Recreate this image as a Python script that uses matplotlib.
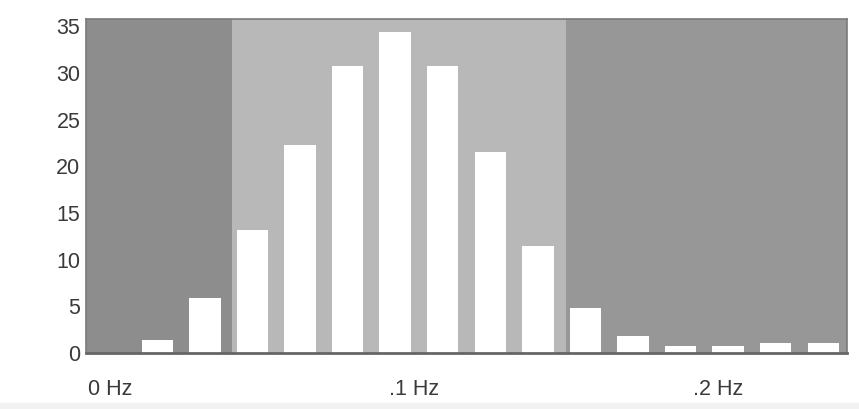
import numpy as np
import matplotlib
matplotlib.use("Agg")
import matplotlib.pyplot as plt

# spectrum bins, 1/64 Hz apart
freqs = [i / 64 for i in range(16)]
power = [0, 1.4, 5.9, 13.2, 22.3, 30.8, 34.4, 30.8, 21.5, 11.5, 4.8, 1.8, 0.8, 0.8, 1.1, 1.1]

bands = [(-0.5 / 64, 0.04), (0.04, 0.15), (0.15, 15.5 / 64)]
band_colors = ['#8d8d8d', '#b8b8b8', '#979797']

xtick_pos = [0, 0.1, 0.2]
xtick_labels = ['0 Hz', '.1 Hz', '.2 Hz']
ytick_pos = [0, 5, 10, 15, 20, 25, 30, 35]

plt.rcParams['font.family'] = ['Liberation Sans', 'DejaVu Sans']

fig = plt.figure(figsize=(8.59, 4.09), dpi=100)
ax = fig.add_axes([86 / 859, 56 / 409, 761 / 859, 334 / 409])

for (a, b), col in zip(bands, band_colors):
    ax.axvspan(a, b, color=col, lw=0, zorder=0)

ax.bar(freqs, power, width=0.66 / 64, color='white', zorder=2)

ax.set_xlim(-0.5 / 64, 15.5 / 64)
ax.set_ylim(0, 35.8)
ax.set_xticks(xtick_pos)
ax.set_xticklabels(xtick_labels)
ax.set_yticks(ytick_pos)
ax.tick_params(length=0, labelsize=15.5, colors='#3a3a3a')
ax.tick_params(axis='x', pad=19)
ax.tick_params(axis='y', pad=4)

for s in ['left', 'top', 'right']:
    ax.spines[s].set_color('#7a7a7a')
    ax.spines[s].set_linewidth(1.2)
ax.spines['bottom'].set_color('#666666')
ax.spines['bottom'].set_linewidth(2)

# light strip at the very bottom
fig.patches.append(plt.Rectangle((0, 0), 1, 6 / 409, transform=fig.transFigure,
                                 color='#f2f2f2', zorder=-1))

fig.savefig('out.png', dpi=100)
